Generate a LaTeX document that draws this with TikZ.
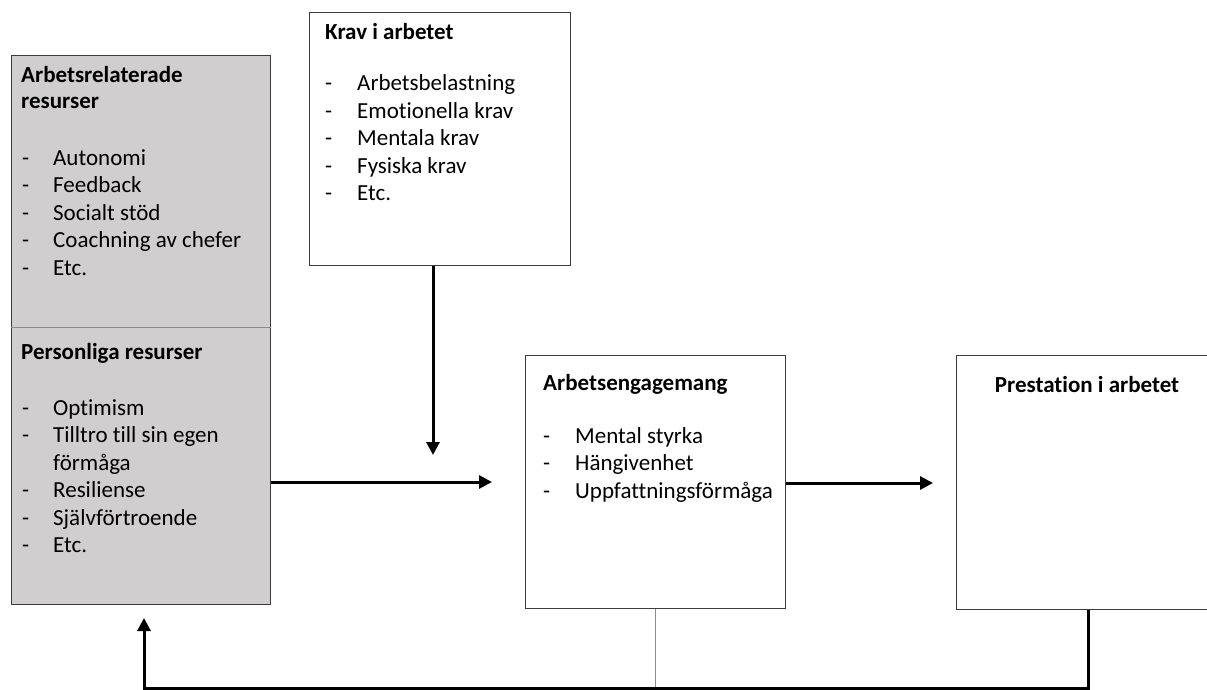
\documentclass[tikz,border=0pt]{standalone}
\usepackage{fontspec}
\setmainfont{Carlito}[Ligatures=NoCommon]
\usetikzlibrary{positioning}
\usetikzlibrary{arrows.meta}
\definecolor{resgray}{RGB}{208,206,207}
\definecolor{boxline}{RGB}{60,60,60}
\newcommand{\punkt}[1]{-&#1\\}

\begin{document}
\begin{tikzpicture}[x=1pt,y=-1pt,
    box/.style={draw=boxline, line width=1pt, inner sep=0pt, anchor=north west},
    txt/.style={inner sep=0pt, anchor=base west, font=\fontsize{23}{27.5}\selectfont},
    head/.style={txt, font=\fontsize{23}{27.5}\selectfont\bfseries},
    flow/.style={line width=3pt, -{Triangle[length=13pt,width=13pt]}},
    thinline/.style={draw=black!45, line width=0.8pt}]
    % Canvas
    \clip (0,0) rectangle (1207,690);

    % Boxes
    \node[box, fill=resgray, minimum width=259pt, minimum height=549pt] (res) at (11,55) {};
    \node[box, minimum width=261pt, minimum height=253pt] (krav) at (309,12) {};
    \node[box, minimum width=260pt, minimum height=253pt] (eng) at (525,355) {};
    \node[box, minimum width=280pt, minimum height=254pt] (prest) at (956,355) {};
    \draw[thinline] (res.west |- 0,327) -- (res.east |- 0,327);

    % Arbetsrelaterade resurser
    \node[head] (resTitle) at (21,83) {\begin{tabular}[t]{@{}l@{}}Arbetsrelaterade\\[-1.5pt]resurser\end{tabular}};
    \node[txt] (resList) at (22,165) {\begin{tabular}[t]{@{}p{31pt}@{}l@{}}
        \punkt{Autonomi}
        \punkt{Feedback}
        \punkt{Socialt stöd}
        \punkt{Coachning av chefer}
        \punkt{Etc.}
    \end{tabular}};

    % Personliga resurser
    \node[head] (perTitle) at (21,359) {Personliga resurser};
    \node[txt] (perList) at (22,415) {\begin{tabular}[t]{@{}p{31pt}@{}l@{}}
        \punkt{Optimism}
        \punkt{Tilltro till sin egen}
        &förmåga\\
        \punkt{Resiliense}
        \punkt{Självförtroende}
        \punkt{Etc.}
    \end{tabular}};

    % Krav i arbetet
    \node[head] (kravTitle) at (325,40) {Krav i arbetet};
    \node[txt] (kravList) at (325,91) {\begin{tabular}[t]{@{}p{32pt}@{}l@{}}
        \punkt{Arbetsbelastning}
        \punkt{Emotionella krav}
        \punkt{Mentala krav}
        \punkt{Fysiska krav}
        \punkt{Etc.}
    \end{tabular}};

    % Arbetsengagemang
    \node[head] (engTitle) at (543,390) {Arbetsengagemang};
    \node[txt] (engList) at (543,443) {\begin{tabular}[t]{@{}p{32pt}@{}l@{}}
        \punkt{Mental styrka}
        \punkt{Hängivenhet}
        \punkt{Uppfattningsförmåga}
    \end{tabular}};

    % Prestation i arbetet
    \node[head, anchor=base] (prestTitle) at (1087,392) {Prestation i arbetet};

    % Arrows
    \coordinate (kravEnd) at (433,455);
    \coordinate (engIn) at (492,482);
    \coordinate (prestIn) at (933,483);
    \coordinate (loopCorner) at (1088,688);
    \coordinate (backEnd) at (144,618);
    \draw[flow] (kravEnd |- krav.south) -- (kravEnd);
    \draw[flow] (res.east |- engIn) -- (engIn);
    \draw[flow] (eng.east |- prestIn) -- (prestIn);
    \draw[thinline] (eng.south) -- (eng.south |- loopCorner);
    \draw[flow] (loopCorner |- prest.south) -- (loopCorner) -- (backEnd |- loopCorner) -- (backEnd);
\end{tikzpicture}
\end{document}
